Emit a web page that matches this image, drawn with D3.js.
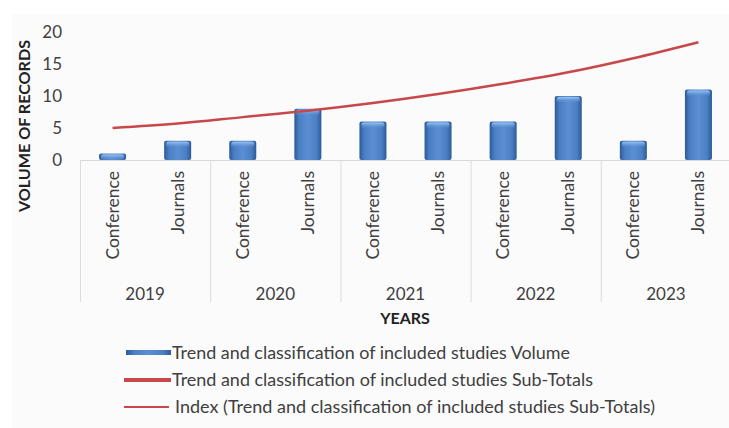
<!DOCTYPE html>
<html>
<head>
<meta charset="utf-8">
<script src="https://cdn.jsdelivr.net/npm/d3@7"></script>
<style>
  body { margin: 0; background: #fff; }
  svg text { font-family: Lato, "Open Sans", sans-serif; fill: #404040; }
</style>
</head>
<body>
<div id="chart"></div>
<script>
const years = ["2019", "2020", "2021", "2022", "2023"];
const types = ["Conference", "Journals"];
// volume per year/type, in the order Conference, Journals
const volumes = [1, 3, 3, 8, 6, 6, 6, 10, 3, 11];
// exponential trend line (Index of Sub-Totals)
const trend = [5.0, 5.7, 6.7, 7.7, 8.9, 10.3, 11.9, 13.7, 15.9, 18.4];
const yTicks = [0, 5, 10, 15, 20];
const legendLabels = [
    "Trend and classification of included studies Volume",
    "Trend and classification of included studies Sub-Totals",
    "Index (Trend and classification of included studies Sub-Totals)"
];

const W = 729, H = 428;

const svg = d3.select("#chart")
    .append("svg")
    .attr("width", W)
    .attr("height", H);

svg.append("rect").attr("x", 12).attr("y", 14).attr("width", W - 12).attr("height", H - 14).attr("fill", "#fbfbfb");

const defs = svg.append("defs");
const grad = defs.append("linearGradient").attr("id", "barGrad").attr("x1", "0").attr("x2", "1").attr("y1", "0").attr("y2", "0");
grad.append("stop").attr("offset", "0%").attr("stop-color", "#2c5a96");
grad.append("stop").attr("offset", "18%").attr("stop-color", "#4a7fc4");
grad.append("stop").attr("offset", "50%").attr("stop-color", "#5b8fd3");
grad.append("stop").attr("offset", "82%").attr("stop-color", "#4a7fc4");
grad.append("stop").attr("offset", "100%").attr("stop-color", "#2c5a96");
const topGrad = defs.append("linearGradient").attr("id", "topGrad").attr("x1", "0").attr("x2", "0").attr("y1", "0").attr("y2", "1");
topGrad.append("stop").attr("offset", "0%").attr("stop-color", "#9cc3f0");
topGrad.append("stop").attr("offset", "100%").attr("stop-color", "#5b8fd3").attr("stop-opacity", 0);

const x0 = d3.scaleBand().domain(years).range([80, 731]);
const x1 = d3.scaleBand().domain(types).range([0, x0.bandwidth()]).paddingInner(0.585).paddingOuter(0.2925);
const y = d3.scaleLinear().domain([0, 20]).range([160, 32]);

const data = volumes.map((v, i) => ({
    year: years[Math.floor(i / 2)],
    type: types[i % 2],
    value: v,
    trend: trend[i]
}));
const cx = d => x0(d.year) + x1(d.type) + x1.bandwidth() / 2;

// y axis
const yAxis = svg.append("g")
    .attr("transform", "translate(66,0)")
    .call(d3.axisLeft(y).tickValues(yTicks).tickSize(0).tickPadding(4))
    .call(g => g.select(".domain").remove());
yAxis.selectAll("text").style("font-size", "17px").style("fill", "#404040");

svg.append("text")
    .attr("transform", "translate(30,126) rotate(-90)")
    .attr("text-anchor", "middle")
    .attr("textLength", 172)
    .attr("lengthAdjust", "spacingAndGlyphs")
    .style("font-size", "16px")
    .style("font-weight", "bold")
    .style("fill", "#222")
    .text("VOLUME OF RECORDS");

// category axis lines
svg.append("line").attr("x1", 80).attr("x2", 731).attr("y1", 160.5).attr("y2", 160.5).attr("stroke", "#d9d9d9");
svg.append("g")
    .selectAll("line")
    .data(years.concat(["end"]))
    .join("line")
    .attr("x1", d => d === "end" ? 730.5 : x0(d) + 0.5)
    .attr("x2", d => d === "end" ? 730.5 : x0(d) + 0.5)
    .attr("y1", 160)
    .attr("y2", 302)
    .attr("stroke", "#dcdcdc");

// bars
const bars = svg.append("g").selectAll("g").data(data).join("g");
bars.append("rect")
    .attr("x", d => x0(d.year) + x1(d.type))
    .attr("y", d => y(d.value))
    .attr("width", x1.bandwidth())
    .attr("height", d => y(0) - y(d.value))
    .attr("rx", 2)
    .attr("fill", "url(#barGrad)");
bars.append("rect")
    .attr("x", d => x0(d.year) + x1(d.type) + 2)
    .attr("y", d => y(d.value) + 1)
    .attr("width", x1.bandwidth() - 4)
    .attr("height", d => Math.min(6, y(0) - y(d.value) - 1))
    .attr("rx", 2)
    .attr("fill", "url(#topGrad)");

// trend line
const line = d3.line()
    .x(cx)
    .y(d => y(d.trend))
    .curve(d3.curveCatmullRom);
svg.append("path")
    .datum(data)
    .attr("d", line)
    .attr("fill", "none")
    .attr("stroke", "#c8474b")
    .attr("stroke-width", 2.5);

// category labels
svg.append("g")
    .selectAll("text")
    .data(data)
    .join("text")
    .attr("transform", d => `translate(${cx(d) + 6},171) rotate(-90)`)
    .attr("text-anchor", "end")
    .style("font-size", "17.5px")
    .text(d => d.type);

svg.append("g")
    .selectAll("text")
    .data(years)
    .join("text")
    .attr("x", d => x0(d) + x0.bandwidth() / 2)
    .attr("y", 300)
    .attr("text-anchor", "middle")
    .style("font-size", "17px")
    .text(d => d);

svg.append("text")
    .attr("x", 405)
    .attr("y", 324)
    .attr("text-anchor", "middle")
    .style("font-size", "16px")
    .style("font-weight", "bold")
    .style("fill", "#222")
    .text("YEARS");

// legend
const legend = svg.append("g");
const rows = [353, 380, 407];
const legendWidths = [398, 421, 480];
legend.append("rect").attr("x", 126).attr("y", rows[0] - 3).attr("width", 45).attr("height", 5).attr("fill", "url(#barGrad)");
legend.append("rect").attr("x", 124).attr("y", rows[1] - 2).attr("width", 47).attr("height", 4).attr("fill", "#c8474b");
legend.append("rect").attr("x", 124).attr("y", rows[2] - 1).attr("width", 45).attr("height", 2).attr("fill", "#c8474b");
legend.selectAll("text")
    .data(legendLabels)
    .join("text")
    .attr("x", (d, i) => i === 2 ? 175 : 172)
    .attr("y", (d, i) => rows[i] + 6)
    .attr("textLength", (d, i) => legendWidths[i])
    .attr("lengthAdjust", "spacingAndGlyphs")
    .style("font-size", "17px")
    .text(d => d);
</script>
</body>
</html>
